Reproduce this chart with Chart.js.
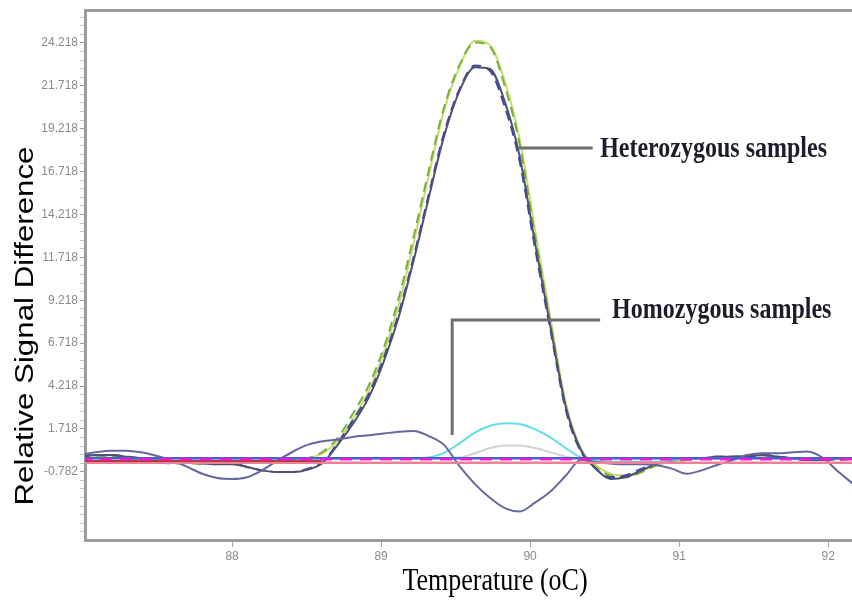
<!DOCTYPE html>
<html>
<head>
<meta charset="utf-8">
<script src="https://cdn.jsdelivr.net/npm/chart.js@4.4.1/dist/chart.umd.min.js"></script>
<style>
html,body{margin:0;padding:0;background:#ffffff;}
#wrap{width:852px;height:602px;position:relative;}
</style>
</head>
<body>
<div id="wrap"><canvas id="c" width="852" height="602"></canvas></div>
<script>
// ---------- data ----------
const temps = [86.98, 87.08, 87.19, 87.29, 87.39, 87.49, 87.59, 87.70, 87.80, 87.90,
               88.00, 88.10, 88.20, 88.31, 88.41, 88.51, 88.61, 88.71, 88.81, 88.92,
               89.02, 89.12, 89.22, 89.32, 89.42, 89.53, 89.63, 89.73, 89.83, 89.93,
               90.03, 90.14, 90.24, 90.34, 90.44, 90.54, 90.64, 90.75, 90.85, 90.95,
               91.05, 91.15, 91.25, 91.36, 91.46, 91.56, 91.66, 91.76, 91.86, 91.97,
               92.07, 92.17];

const heteroGreen = [0.1, 0.15, 0.1, 0.0, -0.1, -0.2, -0.3, -0.3, -0.3, -0.3,
                     -0.2, -0.2, -0.2, -0.15, -0.1, 0.0, 0.4, 1.2, 2.6, 4.3,
                     6.5, 9.4, 13.0, 16.8, 20.4, 23.0, 24.25, 24.0, 21.7, 18.3,
                     13.1, 7.7, 3.0, 0.5, -0.5, -1.0, -1.1, -0.8, -0.4, -0.2,
                     -0.1, 0.0, 0.1, 0.1, 0.2, 0.2, 0.1, 0.0, 0.0, -0.1,
                     -0.1, 0.0];

const heteroGreenLight = [0.1, 0.1, 0.05, 0.0, -0.1, -0.15, -0.2, -0.25, -0.25, -0.25,
                          -0.2, -0.15, -0.15, -0.1, -0.05, 0.0, 0.3, 1.0, 2.3, 4.0,
                          6.2, 9.0, 12.6, 16.5, 20.2, 22.9, 24.35, 24.1, 22.0, 18.6,
                          13.5, 8.0, 3.2, 0.6, -0.4, -0.9, -1.0, -0.7, -0.4, -0.2,
                          -0.1, 0.0, 0.05, 0.1, 0.15, 0.15, 0.1, 0.0, 0.0, -0.05,
                          -0.05, 0.0];

const heteroBlue = [0.1, 0.2, 0.2, 0.1, 0.0, -0.1, -0.2, -0.2, -0.3, -0.3,
                    -0.3, -0.5, -0.7, -0.8, -0.8, -0.6, -0.2, 0.9, 2.2, 3.8,
                    5.9, 8.5, 11.8, 15.4, 18.9, 21.6, 22.9, 22.6, 20.5, 17.3,
                    12.4, 7.3, 2.8, 0.4, -0.6, -1.1, -1.0, -0.6, -0.3, -0.1,
                    0.0, 0.0, 0.1, 0.1, 0.1, 0.2, 0.1, 0.0, -0.1, -0.1,
                    0.0, 0.0];

const heteroSlate = [0.15, 0.2, 0.2, 0.1, 0.0, -0.1, -0.2, -0.25, -0.3, -0.35,
                     -0.35, -0.5, -0.7, -0.8, -0.8, -0.65, -0.25, 0.8, 2.0, 3.6,
                     5.7, 8.3, 11.6, 15.2, 18.7, 21.5, 22.8, 22.7, 20.8, 17.6,
                     12.7, 7.5, 3.0, 0.5, -0.6, -1.2, -1.1, -0.7, -0.3, -0.1,
                     0.0, 0.0, 0.1, 0.1, 0.15, 0.2, 0.1, 0.0, -0.1, -0.1,
                     0.0, 0.0];

const homoWavy = [0.2, 0.35, 0.45, 0.45, 0.35, 0.15, -0.1, -0.5, -0.9, -1.15,
                  -1.2, -1.1, -0.7, -0.1, 0.4, 0.8, 1.0, 1.1, 1.25, 1.35,
                  1.45, 1.55, 1.6, 1.3, 0.8, -0.5, -1.5, -2.3, -2.9, -3.1,
                  -2.6, -1.9, -1.0, -0.1, -0.2, -0.3, -0.35, -0.35, -0.4, -0.6,
                  -0.9, -0.7, -0.4, -0.1, 0.2, 0.3, 0.3, 0.35, 0.4, 0.0,
                  -0.8, -1.5];

const homoCyan = [-0.1, -0.2, -0.25, -0.2, -0.1, 0.0, 0.0, 0.0, 0.0, 0.0,
                  0.0, 0.0, 0.0, 0.0, 0.0, 0.0, 0.0, 0.0, 0.0, 0.0,
                  0.0, 0.0, 0.0, 0.05, 0.3, 0.9, 1.5, 1.9, 2.05, 2.0,
                  1.7, 1.2, 0.6, 0.05, -0.1, -0.2, -0.2, -0.2, -0.2, -0.1,
                  0.0, 0.0, 0.0, 0.0, 0.0, 0.0, 0.0, 0.0, 0.0, 0.0,
                  0.0, 0.0];

const homoGrey = [0.0, 0.0, 0.0, 0.0, 0.0, 0.0, 0.0, 0.0, 0.0, 0.0,
                  0.0, 0.0, 0.0, 0.0, 0.0, 0.0, 0.0, 0.0, 0.0, 0.0,
                  0.0, 0.0, 0.0, 0.0, 0.0, 0.05, 0.3, 0.6, 0.75, 0.75,
                  0.6, 0.35, 0.1, 0.0, 0.0, 0.0, 0.0, 0.0, 0.0, 0.0,
                  0.0, 0.0, 0.0, 0.0, 0.0, 0.0, 0.0, 0.0, 0.0, 0.0,
                  0.0, 0.0];

const flatTemps = [86.98, 92.17];
const flatBlue = [0.0, 0.0];
const flatMagenta = [-0.05, -0.05];
const flatPink = [-0.25, -0.25];
const redTemps = [86.98, 88.6];
const flatRed = [-0.15, -0.15];

const xTickValues = [88, 89, 90, 91, 92];
const yTickValues = [-0.782, 1.718, 4.218, 6.718, 9.218, 11.718, 14.218, 16.718, 19.218, 21.718, 24.218];

const xTitle = 'Temperature (oC)';
const yTitle = 'Relative Signal Difference';
const heteroLabel = 'Heterozygous samples';
const homoLabel = 'Homozygous samples';

// ---------- chart ----------
const X_MIN = 87.013, X_MAX = 92.16, Y_MIN = -4.76, Y_MAX = 26.14;

function pts(xs, ys) { return xs.map((t, i) => ({x: t, y: ys[i]})); }
function isMajor(v) { return yTickValues.some(m => Math.abs(m - v) < 1e-6); }

function line(label, xs, ys, color, extra) {
  return Object.assign({
    label, data: pts(xs, ys), borderColor: color, backgroundColor: color,
    borderWidth: 2, pointRadius: 0, fill: false, cubicInterpolationMode: 'monotone'
  }, extra || {});
}

const overlay = {
  id: 'overlay',
  afterDatasetsDraw(chart, args, opts) {
    const {ctx, scales} = chart;
    const x = scales.x, y = scales.y;
    ctx.save();
    ctx.strokeStyle = opts.lineColor;
    ctx.lineWidth = opts.lineWidth;
    for (const ln of opts.lines) {
      ctx.beginPath();
      ln.forEach((p, k) => {
        const px = x.getPixelForValue(p[0]), py = y.getPixelForValue(p[1]);
        if (k) ctx.lineTo(px, py); else ctx.moveTo(px, py);
      });
      ctx.stroke();
    }
    ctx.fillStyle = opts.labelColor;
    ctx.font = opts.labelFont;
    ctx.textAlign = 'left';
    ctx.textBaseline = 'alphabetic';
    for (const lb of opts.labels) {
      const px = x.getPixelForValue(lb.x), py = y.getPixelForValue(lb.y);
      ctx.save();
      ctx.translate(px, py);
      ctx.scale(1, opts.stretch);
      ctx.fillText(lb.text, 0, 0);
      ctx.restore();
    }
    // axis titles
    const ca = chart.chartArea;
    ctx.fillStyle = '#000';
    ctx.font = opts.xTitleFont;
    ctx.textAlign = 'center';
    ctx.save();
    ctx.translate(opts.xTitleX, opts.xTitleY);
    ctx.scale(1, opts.stretch);
    ctx.fillText(xTitle, 0, 0);
    ctx.restore();
    ctx.font = opts.yTitleFont;
    ctx.save();
    ctx.translate(opts.yTitleX, opts.yTitleY);
    ctx.rotate(-Math.PI / 2);
    ctx.scale(opts.stretch, 1);
    ctx.fillText(yTitle, 0, 0);
    ctx.restore();
    ctx.restore();
  }
};

const dashed = {borderDash: [10, 6]};

new Chart(document.getElementById('c'), {
  type: 'line',
  data: {
    datasets: [
      line('flat magenta', flatTemps, flatMagenta, '#e21fd2', {borderDash: [12, 8], borderWidth: 2.5}),
      line('flat blue', flatTemps, flatBlue, '#4b5bd6', {borderWidth: 2.5}),
      line('flat red', redTemps, flatRed, '#b83a3a'),
      line('flat pink', flatTemps, flatPink, '#ef8098', {borderWidth: 2.5}),
      line('homo wavy', temps, homoWavy, '#65679f'),
      line('homo cyan', temps, homoCyan, '#63dde6'),
      line('homo grey', temps, homoGrey, '#d2d2d2'),
      line('hetero slate', temps, heteroSlate, '#4d5270'),
      line('hetero blue', temps, heteroBlue, '#3d40ad', dashed),
      line('hetero green', temps, heteroGreen, '#76b23a', dashed),
      line('hetero green light', temps, heteroGreenLight, '#c9da72')
    ]
  },
  options: {
    responsive: false,
    animation: false,
    events: [],
    devicePixelRatio: 1,
    layout: {padding: {left: 0, right: 0, top: 0, bottom: 0}},
    plugins: {
      legend: {display: false},
      tooltip: {enabled: false},
      overlay: {
        lineColor: '#6e6e6e',
        lineWidth: 3,
        lines: [
          [[89.92, 18.09], [90.42, 18.09]],
          [[89.477, 1.36], [89.477, 8.06], [90.47, 8.06]]
        ],
        labels: [
          {text: heteroLabel, x: 90.47, y: 17.59},
          {text: homoLabel, x: 90.55, y: 8.18}
        ],
        labelColor: '#1c1c2a',
        labelFont: 'bold 24px "Liberation Serif"',
        stretch: 1.25,
        xTitleFont: '26px "Liberation Serif"',
        xTitleX: 495,
        xTitleY: 590,
        yTitleFont: '25px "Liberation Sans"',
        yTitleX: 33,
        yTitleY: 326
      }
    },
    scales: {
      x: {
        type: 'linear', position: 'bottom', min: X_MIN, max: X_MAX,
        afterBuildTicks: s => { s.ticks = xTickValues.map(v => ({value: v})); },
        afterFit: s => { s.height = 62; },
        ticks: {
          autoSkip: false, maxRotation: 0, padding: 2,
          color: '#8a8a8a', font: {family: 'Liberation Sans', size: 12},
          callback: v => String(v)
        },
        grid: {drawOnChartArea: false, tickLength: 7, tickColor: '#a8a8a8', tickWidth: 1},
        border: {display: true, color: '#9c9c9c', width: 3}
      },
      x2: {
        type: 'linear', position: 'top', min: X_MIN, max: X_MAX,
        afterFit: s => { s.height = 10; },
        ticks: {display: false},
        grid: {display: false, drawTicks: false},
        border: {display: true, color: '#9c9c9c', width: 3}
      },
      y: {
        type: 'linear', position: 'left', min: Y_MIN, max: Y_MAX,
        afterBuildTicks: s => {
          const step = (yTickValues[1] - yTickValues[0]) / 5;
          const out = [];
          let v = yTickValues[0];
          while (v - step >= Y_MIN) v -= step;
          for (; v <= Y_MAX + 1e-9; v += step) out.push({value: Math.round(v * 1000) / 1000});
          s.ticks = out;
        },
        afterFit: s => { s.width = 85; },
        ticks: {
          autoSkip: false, padding: 2,
          color: '#8a8a8a', font: {family: 'Liberation Sans', size: 12},
          callback: v => isMajor(v) ? v.toFixed(3) : ''
        },
        grid: {
          drawOnChartArea: false, tickLength: 5, tickWidth: 1,
          tickColor: c => (c.tick && isMajor(c.tick.value)) ? '#9a9a9a' : '#c4c4c4'
        },
        border: {display: true, color: '#9c9c9c', width: 3}
      }
    }
  },
  plugins: [overlay]
});
</script>
</body>
</html>
